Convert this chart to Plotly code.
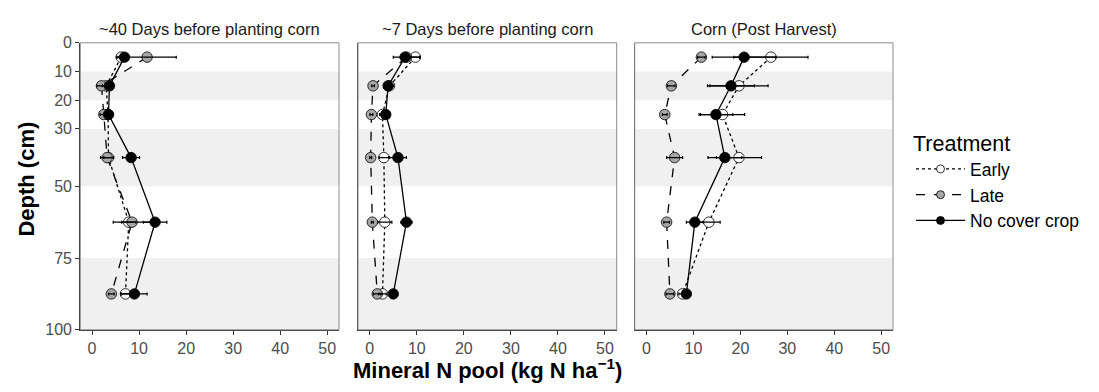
import plotly.graph_objects as go

# ---- data ----
depths = [5, 15, 25, 40, 62.5, 87.5]
panels = ["~40 Days before planting corn", "~7 Days before planting corn", "Corn (Post Harvest)"]
treatments = ["Early", "Late", "No cover crop"]

p1_early = [6.2, 3.0, 3.4, 3.5, 7.8, 7.1]
p1_early_se = [1.0, 0.8, 0.8, 1.0, 1.5, 1.0]
p1_late = [11.7, 2.0, 2.5, 3.2, 8.5, 4.1]
p1_late_se = [6.2, 1.0, 0.8, 1.4, 4.0, 0.6]
p1_nocc = [6.9, 3.7, 3.5, 8.3, 13.4, 9.0]
p1_nocc_se = [0.8, 0.7, 0.6, 1.8, 2.5, 2.7]

p2_early = [9.7, 4.2, 2.7, 3.0, 3.2, 2.7]
p2_early_se = [1.0, 0.8, 0.6, 1.0, 1.5, 0.8]
p2_late = [7.8, 0.7, 0.35, 0.2, 0.55, 1.6]
p2_late_se = [2.8, 0.3, 0.3, 0.2, 0.2, 0.8]
p2_nocc = [7.5, 3.9, 3.4, 6.0, 7.8, 5.0]
p2_nocc_se = [0.8, 0.4, 0.8, 1.8, 1.2, 0.8]

p3_early = [26.5, 19.7, 16.2, 19.7, 13.3, 7.7]
p3_early_se = [7.9, 6.2, 4.7, 4.8, 2.4, 0.8]
p3_late = [11.7, 5.3, 3.9, 6.0, 4.3, 5.0]
p3_late_se = [0.8, 0.8, 0.5, 1.7, 0.6, 0.8]
p3_nocc = [20.8, 18.0, 14.8, 16.7, 10.3, 8.5]
p3_nocc_se = [6.8, 5.0, 3.6, 3.6, 1.8, 0.8]

bands = [(10, 20), (30, 50), (75, 100)]
y_ticks = [0, 10, 20, 30, 50, 75, 100]
x_ticks = [0, 10, 20, 30, 40, 50]

data = [
    [(p1_early, p1_early_se), (p1_late, p1_late_se), (p1_nocc, p1_nocc_se)],
    [(p2_early, p2_early_se), (p2_late, p2_late_se), (p2_nocc, p2_nocc_se)],
    [(p3_early, p3_early_se), (p3_late, p3_late_se), (p3_nocc, p3_nocc_se)],
]

# ---- styles ----
W, H = 1099, 392
FONT = "Liberation Sans, Arial, Helvetica, sans-serif"
fills = {"Early": "white", "Late": "#a6a6a6", "No cover crop": "black"}
dashes = {"Early": "dot", "Late": "dash", "No cover crop": "solid"}
xdomains = [(72.3 / W, 331 / W), (350 / W, 608.7 / W), (626.7 / W, 885 / W)]
ydomain = (1 - 328 / H, 1 - 28 / H)

fig = go.Figure()
for i in range(3):
    xa = "x" if i == 0 else f"x{i+1}"
    ya = "y" if i == 0 else f"y{i+1}"
    for j, t in enumerate(treatments):
        vals, se = data[i][j]
        fig.add_trace(go.Scatter(
            x=vals, y=depths, mode="lines+markers", name=t,
            xaxis=xa, yaxis=ya, showlegend=False, hoverinfo="x+y",
            line=dict(color="black", width=1.3, dash=dashes[t]),
            marker=dict(size=10.5, color=fills[t], line=dict(color="black", width=0.8)),
        ))
    for j, t in enumerate(treatments):
        vals, se = data[i][j]
        fig.add_trace(go.Scatter(
            x=vals, y=depths, mode="markers", showlegend=False, hoverinfo="skip",
            xaxis=xa, yaxis=ya,
            marker=dict(size=1, color="rgba(0,0,0,0)"),
            error_x=dict(type="data", array=se, visible=True, color="black",
                         thickness=1.2, width=1.5),
        ))

# legend entries (smaller symbols, as in the reference key)
for t in treatments:
    fig.add_trace(go.Scatter(
        x=[None], y=[None], mode="lines+markers", name=t, showlegend=True,
        line=dict(color="black", width=1.2, dash=dashes[t]),
        marker=dict(size=8, color=fills[t], line=dict(color="black", width=0.8)),
    ))

layout = dict(
    width=W, height=H, margin=dict(l=0, r=0, t=0, b=0),
    paper_bgcolor="white", plot_bgcolor="white",
    font=dict(family=FONT, color="black"),
    legend=dict(x=903 / W, y=1 - 112 / H, xanchor="left", yanchor="top",
                title=dict(text="Treatment", font=dict(size=21.5)),
                font=dict(size=17.5), tracegroupgap=0, itemwidth=49,
                bgcolor="rgba(0,0,0,0)"),
)
shapes = []
annotations = []
for i in range(3):
    xk = "xaxis" if i == 0 else f"xaxis{i+1}"
    yk = "yaxis" if i == 0 else f"yaxis{i+1}"
    xr = "x" if i == 0 else f"x{i+1}"
    yr = "y" if i == 0 else f"y{i+1}"
    layout[xk] = dict(domain=list(xdomains[i]), range=[-2.5, 52.5], anchor=yr,
                      tickvals=x_ticks, ticks="outside", ticklen=4, tickcolor="#333333",
                      tickfont=dict(size=16, color="#4d4d4d"), showgrid=False,
                      zeroline=False, showline=True, linecolor="#333333", linewidth=1.2)
    layout[yk] = dict(domain=list(ydomain), range=[100, 0], anchor=xr,
                      tickvals=y_ticks, ticks="outside" if i == 0 else "",
                      ticklen=4, tickcolor="#333333", showticklabels=(i == 0),
                      tickfont=dict(size=16, color="#4d4d4d"), showgrid=False,
                      zeroline=False, showline=True, linecolor="#333333", linewidth=1.2)
    for (a, b) in bands:
        shapes.append(dict(type="rect", xref=f"{xr} domain", yref=yr, x0=0, x1=1,
                           y0=a, y1=b, fillcolor="#f0f0f0", line=dict(width=0),
                           layer="below"))
    shapes.append(dict(type="rect", xref=f"{xr} domain", yref=f"{yr} domain",
                       x0=0, x1=1, y0=0, y1=1, line=dict(color="#8c8c8c", width=1),
                       fillcolor="rgba(0,0,0,0)", layer="above"))
    annotations.append(dict(text=panels[i], xref="paper", yref="paper",
                            x=(xdomains[i][0] + xdomains[i][1]) / 2, y=1 - 14 / H,
                            xanchor="center", yanchor="middle", showarrow=False,
                            font=dict(size=16.5, color="#1a1a1a")))

annotations.append(dict(text="<b>Depth (cm)</b>", xref="paper", yref="paper",
                        x=19 / W, y=1 - 171 / H, textangle=-90, showarrow=False,
                        xanchor="center", yanchor="middle", font=dict(size=22)))
annotations.append(dict(text="<b>Mineral N pool (kg N ha<sup>\u22121</sup>)</b>",
                        xref="paper", yref="paper", x=479 / W, y=1 - 369 / H,
                        showarrow=False, xanchor="center", yanchor="middle",
                        font=dict(size=22)))
layout["shapes"] = shapes
layout["annotations"] = annotations
fig.update_layout(**layout)
fig.write_html("out.html")
